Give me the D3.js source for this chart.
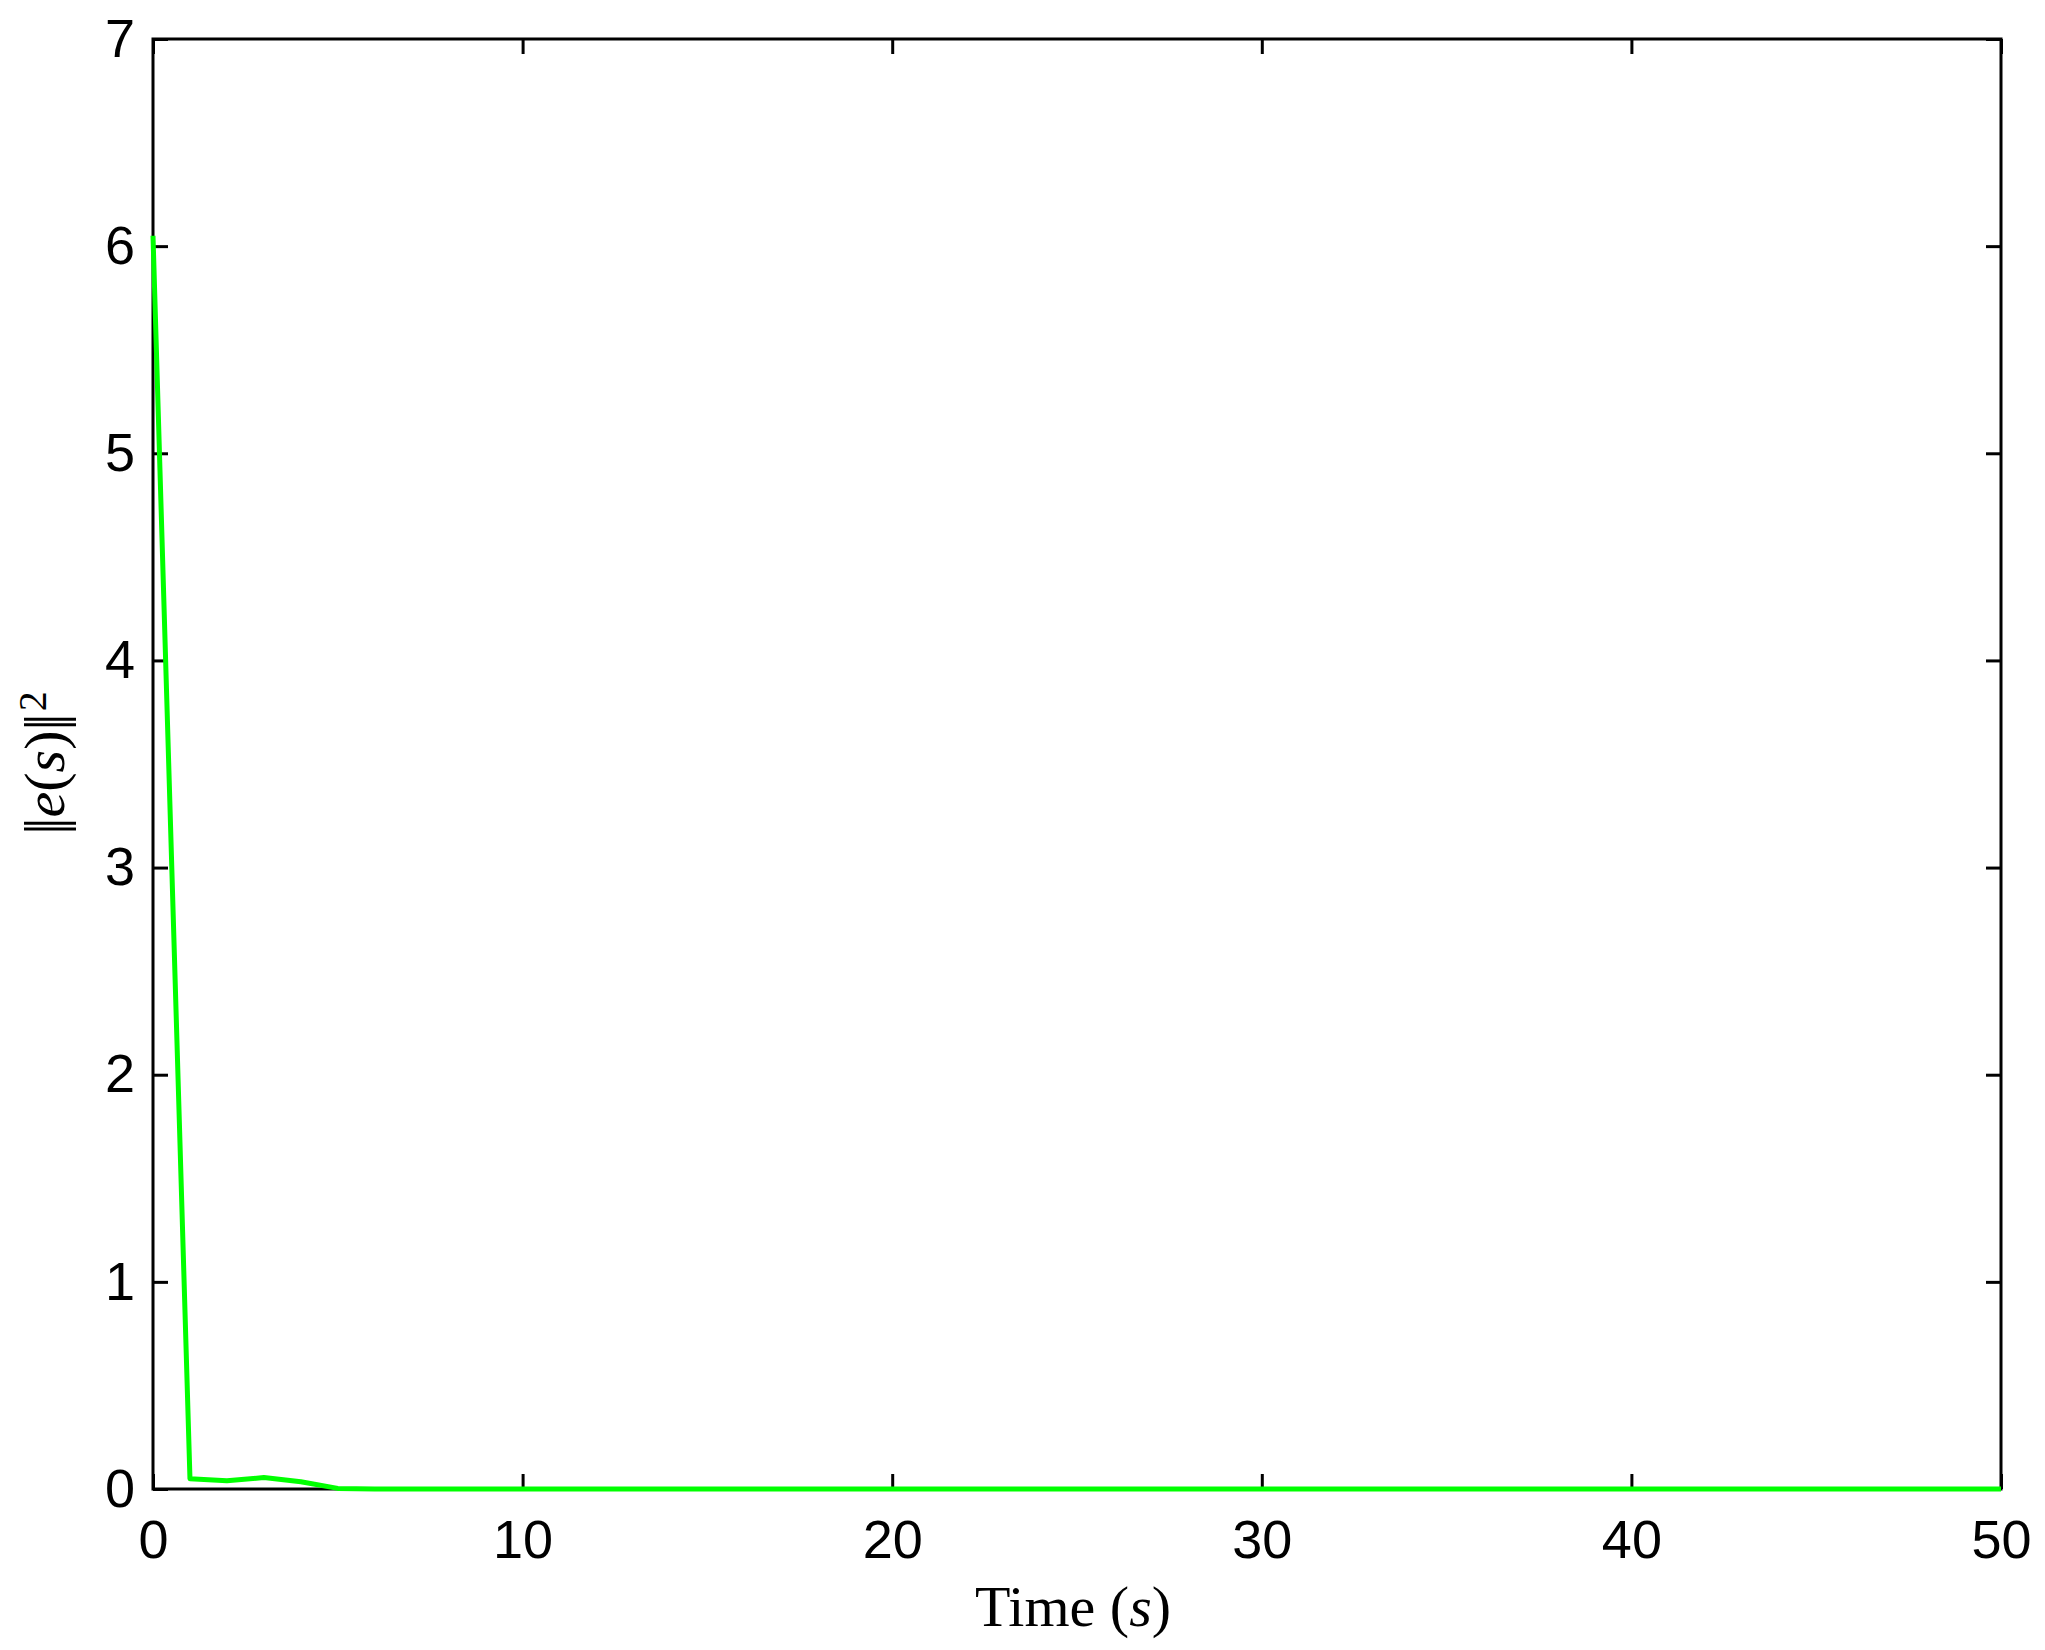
<!DOCTYPE html>
<html>
<head>
<meta charset="utf-8">
<script src="https://cdn.jsdelivr.net/npm/d3@7"></script>
<style>
html,body{margin:0;padding:0;background:#fff;}
svg{display:block;}
</style>
</head>
<body>
<svg id="chart" width="2045" height="1650"></svg>
<script>
// ---- data ----
const timeValues = [0, 1, 2, 3, 4, 5, 6, 10, 20, 30, 40, 50];
const errorValues = [6.05, 0.05, 0.04, 0.055, 0.035, 0.003, 0, 0, 0, 0, 0, 0];
const xTicks = [0, 10, 20, 30, 40, 50];
const yTicks = [0, 1, 2, 3, 4, 5, 6, 7];

const svg = d3.select("#chart");
const W = 2045, H = 1650;
const m = {left: 153, right: W - 2001, top: 39, bottom: H - 1489};
const x = d3.scaleLinear().domain([0, 50]).range([m.left, W - m.right]);
const y = d3.scaleLinear().domain([0, 7]).range([H - m.bottom, m.top]);

svg.append("rect").attr("width", W).attr("height", H).attr("fill", "#fff");

const tickLen = 15;
const fontTick = "54px 'Liberation Sans', Arial, Helvetica, sans-serif";

function styleAxis(g) {
  g.select(".domain").remove();
  g.selectAll(".tick line").attr("stroke", "#000").attr("stroke-width", 3);
  g.selectAll(".tick text").style("font", fontTick).attr("fill", "#000");
}

// bottom
svg.append("g").attr("transform", `translate(0,${y(0)})`)
  .call(d3.axisBottom(x).tickValues(xTicks).tickFormat(d3.format("d")).tickSizeInner(-tickLen).tickSizeOuter(0).tickPadding(31))
  .call(styleAxis);
// top (mirror ticks, no labels)
svg.append("g").attr("transform", `translate(0,${y(7)})`)
  .call(d3.axisTop(x).tickValues(xTicks).tickFormat("").tickSizeInner(-tickLen).tickSizeOuter(0))
  .call(styleAxis);
// left
svg.append("g").attr("transform", `translate(${x(0)},0)`)
  .call(d3.axisLeft(y).tickValues(yTicks).tickFormat(d3.format("d")).tickSizeInner(-tickLen).tickSizeOuter(0).tickPadding(18))
  .call(styleAxis);
// right
svg.append("g").attr("transform", `translate(${x(50)},0)`)
  .call(d3.axisRight(y).tickValues(yTicks).tickFormat("").tickSizeInner(-tickLen).tickSizeOuter(0))
  .call(styleAxis);

// box
svg.append("rect")
  .attr("x", x(0)).attr("y", y(7))
  .attr("width", x(50) - x(0)).attr("height", y(0) - y(7))
  .attr("fill", "none").attr("stroke", "#000").attr("stroke-width", 3);

// line
const pts = timeValues.map((t, i) => [t, errorValues[i]]);
svg.append("path")
  .datum(pts)
  .attr("fill", "none")
  .attr("stroke", "#00ff00")
  .attr("stroke-width", 5)
  .attr("stroke-linejoin", "round")
  .attr("d", d3.line().x(d => x(d[0])).y(d => y(d[1])));

// x label
const serif = "'Liberation Serif', 'DejaVu Serif', serif";
const xl = svg.append("text")
  .attr("x", 1073).attr("y", 1626)
  .attr("text-anchor", "middle")
  .style("font-family", serif).style("font-size", "58px").attr("fill", "#000");
xl.append("tspan").text("Time (");
xl.append("tspan").style("font-style", "italic").text("s");
xl.append("tspan").text(")");

// y label
const yl = svg.append("text")
  .attr("transform", `translate(64,763) rotate(-90)`)
  .attr("text-anchor", "middle")
  .style("font-family", serif).style("font-size", "58px").attr("fill", "#000");
yl.append("tspan").style("letter-spacing", "-6px").text("||");
yl.append("tspan").attr("dx", "6").style("font-style", "italic").text("e");
yl.append("tspan").text("(");
yl.append("tspan").style("font-style", "italic").text("s");
yl.append("tspan").text(")");
yl.append("tspan").style("letter-spacing", "-6px").text("||");
yl.append("tspan").attr("dx", "8").attr("dy", "-0.45em").style("font-size", "40px").text("2");
</script>
</body>
</html>
